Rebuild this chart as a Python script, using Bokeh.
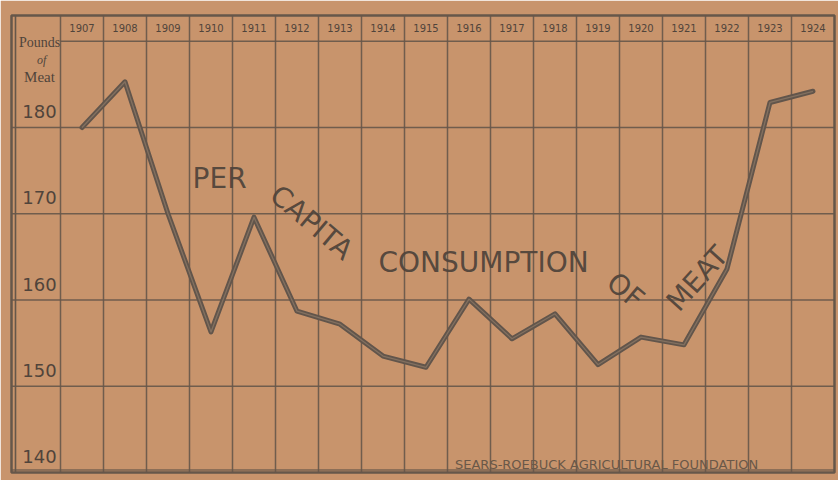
from bokeh.plotting import figure
from bokeh.models import Range1d
from bokeh.core.properties import value
from bokeh.embed import file_html
from bokeh.resources import INLINE

# ---------------- data ----------------
years = [1907, 1908, 1909, 1910, 1911, 1912, 1913, 1914, 1915,
         1916, 1917, 1918, 1919, 1920, 1921, 1922, 1923, 1924]
pounds = [180.0, 185.3, 170.0, 156.3, 169.6, 158.7, 157.2, 153.5, 152.2,
          160.1, 155.5, 158.4, 152.5, 155.7, 154.8, 163.6, 182.9, 184.2]
year_labels = [str(y) for y in years]
y_ticks = [140, 150, 160, 170, 180]
y_tick_labels = ["140", "150", "160", "170", "180"]
unit_words = ["Pounds", "of", "Meat"]
title_words = ["PER", "CAPITA", "CONSUMPTION", "OF", "MEAT"]
credit = ["SEARS-ROEBUCK AGRICULTURAL FOUNDATION"]

# ---------------- layout / style ----------------
BG = "#c8946c"
INK = "#50443b"
GRID = "#66574a"
COL_PX = 43.0        # pixel width of one year column
PX_PER_LB = 8.625    # pixels per pound
X_LEFT = years[0] - 0.5 - 49 / COL_PX
X_RIGHT = years[-1] + 0.5
Y_BOT = y_ticks[0]
Y_TOP = Y_BOT + 457 / PX_PER_LB
HEADER = 190

p = figure(width=838, height=480, output_backend="svg", toolbar_location=None,
           x_range=Range1d(X_LEFT, X_RIGHT), y_range=Range1d(Y_BOT, Y_TOP),
           x_axis_location=None, y_axis_location=None,
           min_border_left=11, min_border_right=4, min_border_top=15, min_border_bottom=8,
           background_fill_color=BG, border_fill_color=BG,
           outline_line_color=GRID, outline_line_width=2.5)
p.grid.visible = False

# vertical column boundaries
bounds = [y - 0.5 for y in years]
p.segment(x0=bounds, y0=[Y_BOT] * len(bounds), x1=bounds, y1=[Y_TOP] * len(bounds),
          line_color=GRID, line_width=1.5, line_alpha=0.9)
# horizontal gridlines
hl = y_ticks[1:]
p.segment(x0=[X_LEFT] * len(hl), y0=hl, x1=[X_RIGHT] * len(hl), y1=hl,
          line_color=GRID, line_width=1.5, line_alpha=0.9)
# header line under the year row
p.segment(x0=[bounds[0]], y0=[HEADER], x1=[X_RIGHT], y1=[HEADER],
          line_color=GRID, line_width=1.5, line_alpha=0.9)
# double borders (left and bottom)
inner_x = X_LEFT + 4 / COL_PX
p.segment(x0=[inner_x], y0=[Y_BOT], x1=[inner_x], y1=[Y_TOP],
          line_color=GRID, line_width=1.6)
inner_y = Y_BOT + 2.5 / PX_PER_LB
p.segment(x0=[X_LEFT], y0=[inner_y], x1=[X_RIGHT], y1=[inner_y],
          line_color=GRID, line_width=1.4, line_alpha=0.8)

# data line (printed, hollow look)
p.line(years, pounds, line_width=5.0, line_color="#62554b", line_join="round", line_cap="round")
p.line(years, pounds, line_width=1.3, line_color="#8e7a67", line_alpha=0.75, line_join="round")

# year labels in header
p.text(x=years, y=[(HEADER + Y_TOP) / 2] * len(years), text=year_labels,
       text_align="center", text_baseline="middle",
       text_font=value("DejaVu Sans"), text_font_size=value("10px"), text_color=INK)

# y tick labels (sit just above their lines)
lab_x = bounds[0] - 21 / COL_PX
p.text(x=[lab_x] * len(y_ticks), y=y_ticks, text=y_tick_labels, y_offset=-16,
       text_align="center", text_baseline="middle",
       text_font=value("DejaVu Sans"), text_font_size=value("18px"), text_color=INK)

# unit label
p.text(x=[lab_x], y=[189.86], text=[unit_words[0]], text_align="center", text_baseline="middle",
       text_font=value("Liberation Serif"), text_font_size=value("14px"), text_color=INK)
p.text(x=[lab_x + 0.05], y=[187.88], text=[unit_words[1]], text_align="center", text_baseline="middle",
       text_font=value("Liberation Serif"), text_font_style="italic",
       text_font_size=value("12px"), text_color=INK)
p.text(x=[lab_x], y=[185.8], text=[unit_words[2]], text_align="center", text_baseline="middle",
       text_font=value("Liberation Serif"), text_font_size=value("15px"), text_color=INK)

# title words along the line
word_x = [1910.20, 1912.34, 1916.34, 1919.64, 1921.31]
word_y = [174.09, 168.99, 164.35, 161.10, 162.49]
word_angle = [0, -40, 0, -40, 48]
p.text(x=word_x, y=word_y, text=title_words, angle=word_angle, angle_units="deg",
       text_align="center", text_baseline="middle",
       text_font=value("DejaVu Sans"), text_font_size=value("28px"),
       text_color=INK, text_alpha=0.95)

# credit
p.text(x=[1919.2], y=[Y_BOT], text=credit, y_offset=-8,
       text_align="center", text_baseline="middle",
       text_font=value("DejaVu Sans"), text_font_size=value("13px"),
       text_color="#6a5848")

open("out.html", "w").write(file_html(p, INLINE))
